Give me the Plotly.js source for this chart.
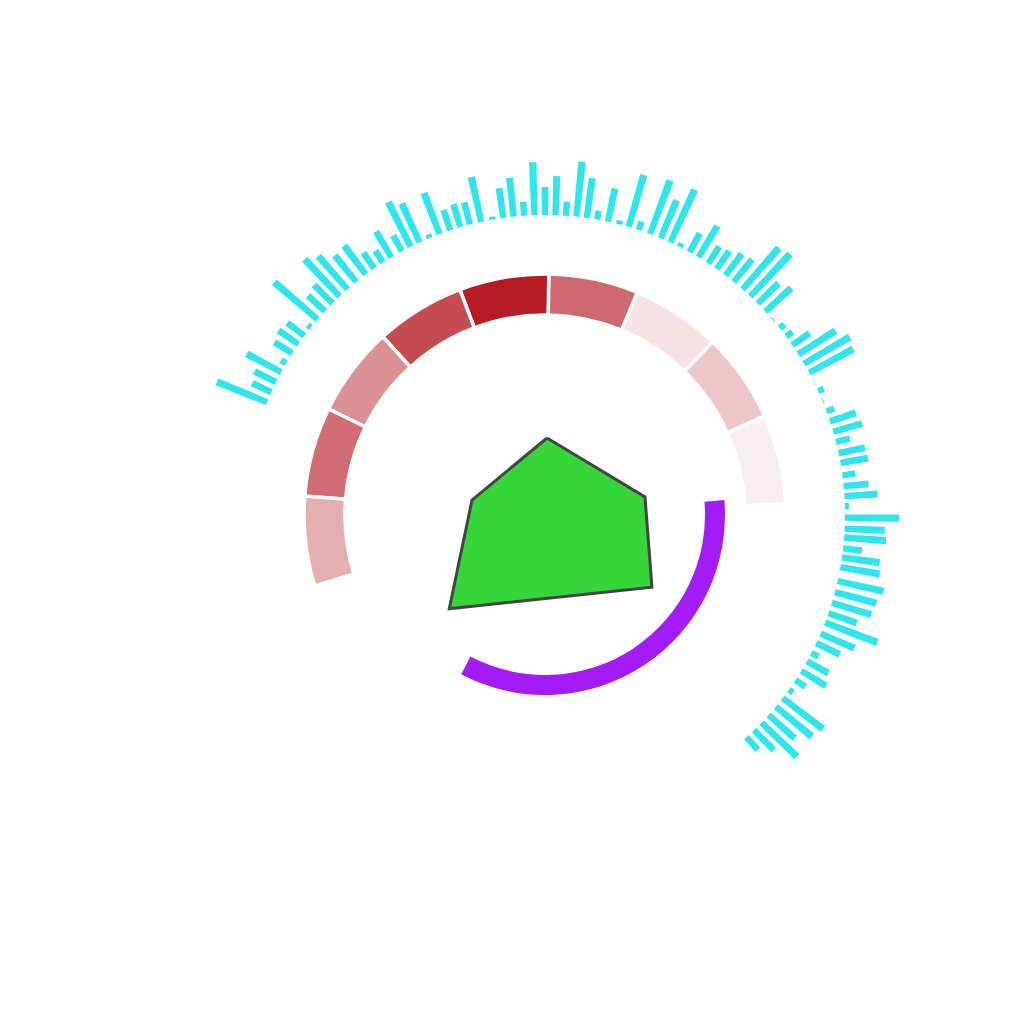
<!DOCTYPE html>
<html>
<head>
<meta charset="utf-8">
<script src="https://cdn.plot.ly/plotly-3.0.1.min.js"></script>
<style>html,body{margin:0;padding:0;background:#fff;}#chart{width:1024px;height:1024px;}</style>
</head>
<body>
<div id="chart"></div>
<script>
// Outer cyan spikes (angle in degrees, length above the base ring)
const spikeTheta = [157.9,155.8,153.7,151.6,149.6,147.4,145.3,143.3,141.3,139.3,137.2,135.1,133.2,131.2,129,126.7,124.7,122.7,120.8,118.5,116.6,114.7,112.6,110.6,108.4,106.4,104.5,102.3,100.1,98,96,94,92,90,88,86,84,82,80,77.9,75.7,73.8,71.8,69.5,67.3,65.3,63.3,61.2,59.2,57,55.1,53,51,48.8,46.8,44.8,42.7,40.6,38.5,36.5,34.5,32.4,30.3,28.3,26.3,24.4,22.3,20.2,18.2,16.1,14.1,11.9,10,7.6,5.5,3.6,1.7,-0.5,-2.6,-4.3,-6.4,-8.1,-10,-12.7,-14.9,-17,-19.1,-21,-23.3,-25.3,-27.4,-29.2,-31.3,-33.4,-35.6,-37.6,-39.7,-41.8,-43.8,-45.8,-47.8];
const spikeLen = [54,21,24,39,6,21,24,21.5,4,57,23,26,51,44,34,36,19,14,30,18,50,43,4,44,21.5,24,23,46,3,30,39,14,53,28,39,14,55,40,9,34,4,54,9,57,41,58,4,21.5,36.5,20,22,27,29,55,58,29,35,1,6,8,21,44,53,50,0.5,6,1,8,27,30,14.5,27,28,13,25,33,4,54,40,42,19,38,40,47,43,41,30,56,37,26,8,24.5,29,12,5,51,47,35,49,28,17];
const spikeBase = 300;

// Red segmented ring
const ringTheta = [13.5,35.1,56.7,78.3,99.9,121.5,143.1,164.7,186.3];
const ringValue = [0.0,0.19,0.05,0.64,1.0,0.77,0.45,0.62,0.30];
const ringBase = 200;
const ringThick = 41;
const ringWidth = 21.6;

// Purple arc
const arcTheta = [-56.5];
const arcWidth = [122.5];
const arcBase = 160;
const arcThick = 20;

// Green polygon
const polyR = [77,101.6,129,134,74.5,77];
const polyTheta = [88.5,10.2,-34,-135.6,168.4,88.5];

const traces = [
  {
    type: 'barpolar',
    theta: ringTheta,
    r: ringTheta.map(() => ringThick),
    base: ringTheta.map(() => ringBase),
    width: ringTheta.map(() => ringWidth),
    marker: {
      color: ringValue,
      cmin: 0, cmax: 1,
      colorscale: [[0, '#f9eeef'], [1, '#b71c25']],
      line: {color: '#ffffff', width: 3.5}
    },
    hoverinfo: 'skip'
  },
  {
    type: 'barpolar',
    theta: spikeTheta,
    r: spikeLen,
    base: spikeTheta.map(() => spikeBase),
    width: spikeTheta.map(() => 1.2),
    marker: {color: '#2ee6ee', line: {width: 0}},
    hoverinfo: 'skip'
  },
  {
    type: 'barpolar',
    theta: arcTheta,
    r: arcTheta.map(() => arcThick),
    base: arcTheta.map(() => arcBase),
    width: arcWidth,
    marker: {color: '#a31cf8', line: {width: 0}},
    hoverinfo: 'skip'
  },
  {
    type: 'scatterpolar',
    mode: 'lines',
    r: polyR,
    theta: polyTheta,
    fill: 'toself',
    fillcolor: '#35d63a',
    line: {color: '#444444', width: 3},
    hoverinfo: 'skip'
  }
];

const layout = {
  width: 1024, height: 1024,
  margin: {l: 0, r: 0, t: 0, b: 0},
  paper_bgcolor: '#ffffff',
  showlegend: false,
  polar: {
    domain: {x: [145/1024, 945/1024], y: [109/1024, 909/1024]},
    bgcolor: '#ffffff',
    barmode: 'overlay',
    radialaxis: {visible: false, range: [0, 400], showgrid: false, showline: false, showticklabels: false, ticks: ''},
    angularaxis: {visible: false, showgrid: false, showline: false, showticklabels: false, ticks: ''}
  }
};

Plotly.newPlot('chart', traces, layout, {displayModeBar: false, staticPlot: true});
</script>
</body>
</html>
